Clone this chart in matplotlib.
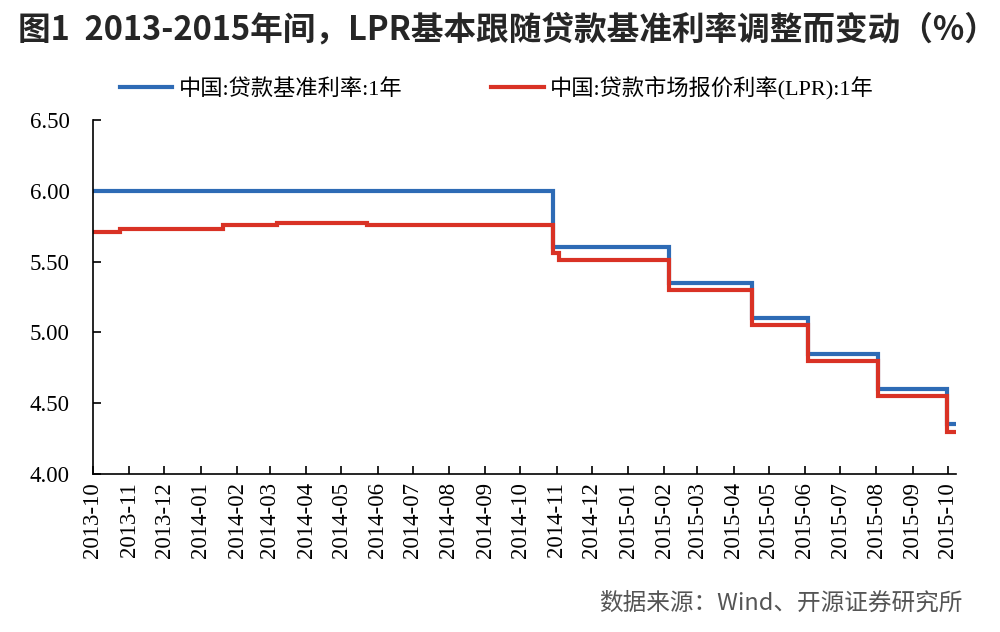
import matplotlib
matplotlib.use("Agg")
import matplotlib.pyplot as plt
import pandas as pd

# ---- data ----
benchmark_dates = ['2013-10-25', '2014-11-22', '2015-03-01', '2015-05-11',
                   '2015-06-28', '2015-08-26', '2015-10-24', '2015-10-31']
benchmark_values = [6.00, 5.60, 5.35, 5.10, 4.85, 4.60, 4.35, 4.35]

lpr_dates = ['2013-10-25', '2013-11-17', '2014-02-13', '2014-03-31', '2014-06-16',
             '2014-11-22', '2014-11-27', '2015-03-01', '2015-05-11', '2015-06-28',
             '2015-08-26', '2015-10-24', '2015-10-31']
lpr_values = [5.71, 5.73, 5.76, 5.77, 5.76, 5.56, 5.51, 5.30, 5.05, 4.80, 4.55, 4.30, 4.30]

tick_labels = ['2013-10', '2013-11', '2013-12', '2014-01', '2014-02', '2014-03',
               '2014-04', '2014-05', '2014-06', '2014-07', '2014-08', '2014-09',
               '2014-10', '2014-11', '2014-12', '2015-01', '2015-02', '2015-03',
               '2015-04', '2015-05', '2015-06', '2015-07', '2015-08', '2015-09',
               '2015-10']
y_ticks = [4.00, 4.50, 5.00, 5.50, 6.00, 6.50]

series_names = ['中国:贷款基准利率:1年', '中国:贷款市场报价利率(LPR):1年']
title = '图1  2013-2015年间，LPR基本跟随贷款基准利率调整而变动（%）'
source = '数据来源：Wind、开源证券研究所'

BLUE = '#2E6BB5'
RED = '#D93225'
SERIF = ['Liberation Serif', 'Noto Sans CJK SC']
SANS = ['Noto Sans CJK SC', 'DejaVu Sans']

fig = plt.figure(figsize=(10, 6.32), dpi=100)
ax = fig.add_axes([0.093, 0.25, 0.863, 0.56])

bd = pd.to_datetime(benchmark_dates)
ld = pd.to_datetime(lpr_dates)
ax.step(bd, benchmark_values, where='post', color=BLUE, lw=3.0,
        label=series_names[0], solid_joinstyle='miter')
ax.step(ld, lpr_values, where='post', color=RED, lw=3.0,
        label=series_names[1], solid_joinstyle='miter')

ax.set_ylim(4.0, 6.5)
ax.set_yticks(y_ticks)
ax.set_yticklabels([f'{v:.2f}' for v in y_ticks], fontfamily=SERIF, fontsize=16.5)

tick_pos = pd.to_datetime([t + '-25' for t in tick_labels])
ax.set_xticks(tick_pos)
ax.set_xticklabels(tick_labels, rotation=90, fontfamily=SERIF, fontsize=16.5)
ax.set_xlim(pd.Timestamp('2013-10-25'), pd.Timestamp('2015-11-01'))

for s in ['top', 'right']:
    ax.spines[s].set_visible(False)
for s in ['left', 'bottom']:
    ax.spines[s].set_linewidth(1.2)
    ax.spines[s].set_color('#000000')
ax.tick_params(axis='both', direction='in', length=6, width=1.2, colors='#000000')
ax.tick_params(axis='y', pad=17)
ax.tick_params(axis='x', pad=6)

leg = fig.legend(loc='center', bbox_to_anchor=(0.497, 0.861), ncol=2, frameon=False,
                 handlelength=2.35, columnspacing=4.0, handletextpad=0.3,
                 prop={'family': SERIF, 'size': 16})

fig.text(0.018, 0.953, title, fontfamily=SANS, fontsize=23.5, fontweight='bold',
         color='#262626', ha='left', va='center')
fig.text(0.962, 0.045, source, fontfamily=SANS, fontsize=17, color='#555555',
         ha='right', va='center')

fig.savefig('out.png', dpi=100)
